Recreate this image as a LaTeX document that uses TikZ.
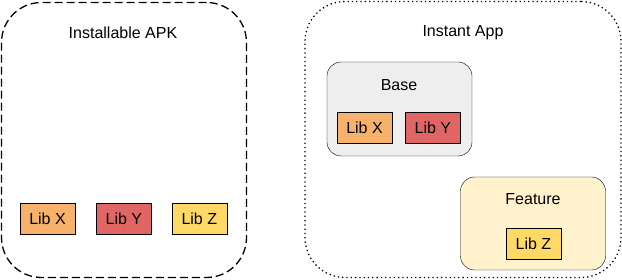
\documentclass[tikz,border=0pt]{standalone}
\usepackage{fontspec}
\setmainfont{Liberation Sans}
\usetikzlibrary{positioning}
\definecolor{libx}{HTML}{F6B26B}
\definecolor{liby}{HTML}{E06666}
\definecolor{libz}{HTML}{FFD966}
\definecolor{basegray}{HTML}{EEEEEE}
\definecolor{featyellow}{HTML}{FFF2CC}

\begin{document}
\begin{tikzpicture}[x=1pt, y=-1pt,
    every node/.style={font=\fontsize{16}{19}\selectfont},
    lib/.style={draw, minimum width=55pt, minimum height=31pt, inner sep=0pt},
    module/.style={draw, rounded corners=14pt, minimum width=145pt, inner sep=0pt},
    app/.style={draw, line width=1.3pt, rounded corners=40pt, inner sep=0pt}]
    \useasboundingbox (0, 0) rectangle (622, 280);

    % installable apk
    \node[app, dash pattern=on 8pt off 4pt, minimum width=245pt, minimum height=275pt] (apk) at (124, 140) {};
    \node (apktitle) at (123, 33) {Installable APK};
    \node[lib, fill=libx] (apkx) at (47.5, 218.5) {Lib X};
    \node[lib, fill=liby, right=21pt of apkx] (apky) {Lib Y};
    \node[lib, fill=libz, right=20pt of apky] (apkz) {Lib Z};

    % instant app
    \node[app, dash pattern=on 1.3pt off 3pt, minimum width=316pt, minimum height=276pt] (instant) at (463, 139.5) {};
    \node (instanttitle) at (463, 33) {Instant App};

    \node[module, fill=basegray, minimum height=94pt] (base) at (399.5, 109) {};
    \node (basetitle) at (399, 85) {Base};
    \node[lib, fill=libx] (basex) at (364.5, 128) {Lib X};
    \node[lib, fill=liby, right=13pt of basex] (basey) {Lib Y};

    \node[module, fill=featyellow, minimum height=93pt] (feature) at (533, 223.5) {};
    \node (featuretitle) at (533, 199) {Feature};
    \node[lib, fill=libz] (featz) at (533.5, 244) {Lib Z};
\end{tikzpicture}
\end{document}
